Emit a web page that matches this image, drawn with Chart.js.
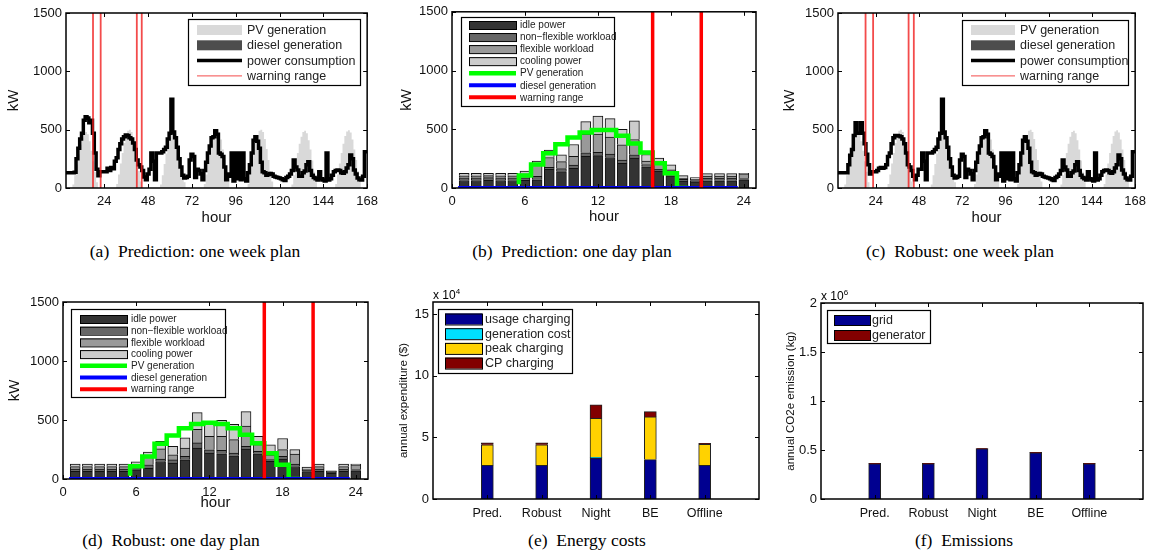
<!DOCTYPE html>
<html>
<head>
<meta charset="utf-8">
<script src="https://cdn.jsdelivr.net/npm/chart.js@4.4.1/dist/chart.umd.min.js"></script>
<style>
  body { margin: 0; background: #fff; width: 1152px; height: 559px; position: relative; overflow: hidden; }
  canvas { position: absolute; }
  .cap { position: absolute; font-family: 'Liberation Serif', 'Times New Roman', serif; font-size: 17.5px; color: #000; white-space: nowrap; transform: translate(-50%, -50%); }
  .exp { position: absolute; font-family: 'Liberation Sans', Arial, sans-serif; font-size: 12px; color: #000; }
  .exp sup { font-size: 8px; }
</style>
</head>
<body>
<canvas id="weekPred" width="384" height="232" style="left:0;top:0"></canvas>
<canvas id="dayPred" width="384" height="232" style="left:384px;top:0"></canvas>
<canvas id="weekRobust" width="384" height="232" style="left:768px;top:0"></canvas>
<canvas id="dayRobust" width="384" height="250" style="left:0;top:270px"></canvas>
<canvas id="costs" width="384" height="250" style="left:384px;top:270px"></canvas>
<canvas id="emissions" width="384" height="250" style="left:768px;top:270px"></canvas>

<div class="cap" style="left:195px;top:251px">(a)&nbsp; Prediction: one week plan</div>
<div class="cap" style="left:572px;top:251px">(b)&nbsp; Prediction: one day plan</div>
<div class="cap" style="left:960px;top:251px">(c)&nbsp; Robust: one week plan</div>
<div class="cap" style="left:171px;top:540px">(d)&nbsp; Robust: one day plan</div>
<div class="cap" style="left:587px;top:540px">(e)&nbsp; Energy costs</div>
<div class="cap" style="left:964px;top:540px">(f)&nbsp; Emissions</div>
<div class="exp" style="left:433px;top:287px">x 10<sup>4</sup></div>
<div class="exp" style="left:821px;top:288px">x 10<sup>6</sup></div>

<script>
// ---- week plans (kW per hour, hour 1..168) ----
const weekTicks = [24, 48, 72, 96, 120, 144, 168];
const dayTicks = [0, 6, 12, 18, 24];
const kwTicks = [0, 500, 1000, 1500];

const pvWeek = [
  0,0,0,0,0,0,30,110,200,290,370,430,465,480,460,400,320,230,140,50,0,0,0,0,
  0,0,0,0,0,0,35,115,210,300,385,450,490,500,480,420,335,240,145,55,0,0,0,0,
  0,0,0,0,0,0,30,110,205,295,375,435,470,485,465,405,325,235,140,50,0,0,0,0,
  0,0,0,0,0,0,35,115,210,300,380,445,485,495,475,415,330,240,145,55,0,0,0,0,
  0,0,0,0,0,0,35,115,210,305,385,450,490,500,480,420,335,240,145,55,0,0,0,0,
  0,0,0,0,0,0,30,110,205,300,380,440,480,490,470,410,330,235,140,50,0,0,0,0,
  0,0,0,0,0,0,35,115,210,300,380,445,485,495,475,415,330,240,145,55,0,0,0,0
];

const predWeek = [
  130,130,130,130,130,130,130,135,250,340,420,470,580,610,600,560,580,470,300,160,105,140,140,140,
  140,170,150,175,165,230,260,330,380,420,440,455,450,430,420,385,330,240,200,180,150,95,70,120,
  160,300,230,70,300,300,300,310,330,350,420,470,760,480,430,350,250,180,110,85,90,100,240,290,
  270,90,160,150,120,70,150,220,300,360,430,440,490,460,300,290,270,180,70,120,100,300,60,300,
  80,300,70,300,80,60,130,200,300,410,440,400,340,220,140,130,110,115,125,120,100,95,90,85,
  80,70,65,90,100,120,150,240,180,155,100,100,130,145,200,226,150,110,90,80,69,140,80,69,
  60,300,69,80,110,140,150,155,150,130,126,140,171,200,283,250,154,120,86,70,69,100,311,311
];

const robustWeek = [
  130,130,130,130,130,130,130,130,200,280,330,450,560,470,470,560,470,380,290,200,120,140,140,140,
  150,170,175,170,175,200,270,300,380,430,450,450,445,440,420,380,300,200,180,150,100,70,110,160,
  160,300,230,70,300,300,300,310,330,350,420,470,760,480,430,350,250,180,110,85,90,100,240,290,
  270,90,160,150,120,70,150,220,300,360,430,440,490,460,300,290,270,180,70,120,100,300,60,300,
  80,300,70,300,80,60,130,200,300,410,440,400,340,220,140,130,110,115,125,120,100,95,90,85,
  80,70,65,90,100,120,150,240,180,155,100,100,130,145,200,226,150,110,90,80,69,140,80,69,
  60,300,69,80,110,140,150,155,150,130,126,140,171,200,283,250,154,120,86,70,69,100,311,311
];

const warnPredWeek = [17.8, 22, 41.8, 44.5];
const warnRobustWeek = [18.3, 22.5, 42.2, 45.1];

// ---- day plans (kW, hour 1..24) ----
const idlePred    = [64,64,66,64,64,66,70,160,140,168,270,275,260,210,254,180,145,104,58,52,62,62,62,70];
const nonflexPred = [23,23,22,23,23,20,30,15,25,27,30,28,28,28,29,20,15,15,15,12,23,23,23,10];
const flexPred    = [17,17,17,17,17,35,95,85,60,75,160,155,145,130,130,30,45,35,10,10,17,17,17,40];
const coolPred    = [20,20,20,20,20,24,35,62,58,100,105,154,157,132,159,55,50,43,23,15,20,20,20,5];
const pvDayPred   = [null,null,null,null,null,31,106,199,295,373,430,472,494,494,444,379,303,211,126,0,null,null,null,null];

const idleRob    = [65,65,65,65,65,77,91,148,134,163,263,220,214,197,254,214,149,169,106,63,65,49,65,70];
const nonflexRob = [20,20,20,20,20,20,30,20,28,29,43,28,28,23,23,20,15,23,20,12,20,8,20,10];
const flexRob    = [20,20,20,20,20,25,77,87,43,71,114,114,120,114,171,57,40,57,86,10,20,7,20,40];
const coolRob    = [21,21,21,21,21,24,30,65,72,86,143,121,135,129,123,71,86,94,37,15,21,5,21,6];
const pvDayRob   = [null,null,null,null,null,28,107,191,298,368,430,466,476,466,430,374,303,219,121,0,null,null,null,null];

const dieselDay = [0,0,0,0,0,0,0,0,0,0,0,0,0,0,0,0,0,0,0,0,0,0,0,0];
const warnDay = [16.5, 20.5];

// ---- yearly comparison ----
const strategies = ['Pred.', 'Robust', 'Night', 'BE', 'Offline'];
const usageCost = [27300, 27300, 33300, 32000, 27300];
const generationCost = [0, 0, 500, 0, 0];
const peakCost = [16700, 16700, 31800, 34700, 17200];
const cpCost = [1600, 1600, 10900, 4300, 800];
const costTicks = [0, 50000, 100000, 150000];

const gridEmission = [358000, 358000, 512000, 470000, 358000];
const generatorEmission = [5000, 5000, 4000, 5000, 5000];
const emissionTicks = [0, 500000, 1000000, 1500000, 2000000];

Chart.defaults.font.family = "'Liberation Sans', Arial, Helvetica, sans-serif";
Chart.defaults.color = '#000';
Chart.defaults.animation = false;

// box with inward ticks on all four sides, like the original plots
const matlabBox = {
  id: 'matlabBox',
  afterDatasetsDraw(chart) {
    const { ctx, chartArea: a, scales } = chart;
    const len = 4;
    ctx.save();
    ctx.strokeStyle = '#000';
    ctx.lineWidth = 1;
    ctx.beginPath();
    scales.x.ticks.forEach(t => {
      const px = Math.round(scales.x.getPixelForValue(t.value)) + 0.5;
      ctx.moveTo(px, a.bottom); ctx.lineTo(px, a.bottom - len);
      ctx.moveTo(px, a.top); ctx.lineTo(px, a.top + len);
    });
    scales.y.ticks.forEach(t => {
      const py = Math.round(scales.y.getPixelForValue(t.value)) + 0.5;
      ctx.moveTo(a.left, py); ctx.lineTo(a.left + len, py);
      ctx.moveTo(a.right, py); ctx.lineTo(a.right - len, py);
    });
    ctx.stroke();
    ctx.lineWidth = 1.5;
    ctx.strokeRect(a.left, a.top, a.right - a.left, a.bottom - a.top);
    ctx.restore();
  }
};

// legend box drawn inside the axes
const boxLegend = {
  id: 'boxLegend',
  afterDraw(chart, args, opts) {
    if (!opts || !opts.box) return;
    const ctx = chart.ctx;
    const [bx, by, bw, bh] = opts.box;
    const [px, pw, ph] = opts.patch;
    ctx.save();
    ctx.fillStyle = '#fff';
    ctx.fillRect(bx, by, bw, bh);
    ctx.strokeStyle = '#000';
    ctx.lineWidth = 1.2;
    ctx.strokeRect(bx + 0.5, by + 0.5, bw, bh);
    ctx.font = opts.font;
    ctx.textBaseline = 'middle';
    chart.data.datasets.filter(d => d.legend).forEach((d, i) => {
      const y = opts.rowY + i * opts.rowH;
      if (d.legend === 'line') {
        ctx.strokeStyle = d.borderColor;
        ctx.lineWidth = d.legendWidth || d.borderWidth;
        ctx.beginPath();
        ctx.moveTo(px, y); ctx.lineTo(px + pw, y);
        ctx.stroke();
      } else {
        ctx.fillStyle = d.backgroundColor;
        ctx.fillRect(px, y - ph / 2, pw, ph);
        if (d.legendEdge) {
          ctx.strokeStyle = '#000';
          ctx.lineWidth = 1;
          ctx.strokeRect(px + 0.5, y - ph / 2 + 0.5, pw, ph);
        }
      }
      ctx.fillStyle = '#222';
      ctx.fillText(d.label, opts.textX, y + 0.5);
    });
    ctx.restore();
  }
};

function fixTicks(values) {
  return scale => { scale.ticks = values.map(v => ({ value: v })); };
}

function axisX(min, max, ticks, height, title, titlePad, fmt) {
  return {
    type: 'linear', min, max, offset: false,
    afterBuildTicks: fixTicks(ticks),
    afterFit: s => { s.height = height; },
    grid: { display: false, drawTicks: false, offset: false },
    border: { display: false },
    ticks: { padding: 6, font: { size: 13 }, color: '#111', maxRotation: 0, autoSkip: false, callback: fmt || (v => String(v)) },
    title: title ? { display: true, text: title, font: { size: 15 }, color: '#111', padding: { top: 0, bottom: titlePad } } : { display: false }
  };
}

function axisY(max, ticks, width, title, titleSize, titlePad, fmt) {
  return {
    min: 0, max,
    afterBuildTicks: fixTicks(ticks),
    afterFit: s => { s.width = width; },
    grid: { display: false, drawTicks: false },
    border: { display: false },
    ticks: { padding: 4, font: { size: 13 }, color: '#111', callback: fmt || (v => String(v)) },
    title: { display: true, text: title, font: { size: titleSize }, color: '#111', padding: { top: titlePad, bottom: 0 } }
  };
}

function vLine(x, color, width, label) {
  return {
    type: 'line', label, data: [{ x, y: 0 }, { x, y: 1500 }],
    borderColor: color, borderWidth: width, pointRadius: 0, order: 0,
    legend: label ? 'line' : undefined, legendWidth: label ? 1 : undefined
  };
}

function weekChart(id, consumption, warn, pad, yW, titlePadY, legendBox) {
  const datasets = [
    { type: 'line', label: 'PV generation', data: pvWeek.map((v, i) => ({ x: i + 1, y: v })),
      stepped: 'middle', fill: 'origin', backgroundColor: '#d9d9d9', borderColor: 'rgba(0,0,0,0)',
      borderWidth: 0, pointRadius: 0, order: 3, legend: 'patch' },
    { type: 'line', label: 'diesel generation', data: [], backgroundColor: '#4d4d4d',
      borderColor: '#4d4d4d', pointRadius: 0, order: 2, legend: 'patch' },
    { type: 'line', label: 'power consumption', data: consumption.map((v, i) => ({ x: i + 1, y: v })),
      stepped: 'middle', borderColor: '#000', borderWidth: 3.5, pointRadius: 0, order: 1,
      legend: 'line', legendWidth: 3.5 }
  ];
  warn.forEach((x, i) => datasets.push(vLine(x, 'rgba(240,30,30,0.8)', 1.8, i === 0 ? 'warning range' : undefined)));
  return new Chart(document.getElementById(id), {
    type: 'line',
    data: { datasets },
    options: {
      responsive: false, devicePixelRatio: 1,
      layout: { padding: pad },
      scales: {
        x: axisX(3, 168, weekTicks, 44, 'hour', 5),
        y: axisY(1500, kwTicks, yW, 'kW', 15, titlePadY)
      },
      plugins: {
        legend: { display: false }, tooltip: { enabled: false },
        boxLegend: legendBox
      }
    },
    plugins: [matlabBox, boxLegend]
  });
}

function dayChart(id, idle, nonflex, flex, cool, pv, pad, yW, titlePadY, xH, xTitlePad, legendBox) {
  const bar = (label, data, color) => ({
    type: 'bar', label, data: data.map((v, i) => ({ x: i + 1, y: v })),
    backgroundColor: color, borderColor: '#111', borderWidth: 1, barThickness: 10,
    order: 4, legend: 'patch', legendEdge: true
  });
  const datasets = [
    bar('idle power', idle, '#333333'),
    bar('non\u2212flexible workload', nonflex, '#666666'),
    bar('flexible workload', flex, '#999999'),
    bar('cooling power', cool, '#cccccc'),
    { type: 'line', label: 'PV generation', yAxisID: 'y2', data: pv.map((v, i) => ({ x: i + 0.5, y: v })),
      stepped: 'after', spanGaps: false, borderColor: '#00ff00', borderWidth: 4.5, pointRadius: 0, order: 2, legend: 'line' },
    { type: 'line', label: 'diesel generation', yAxisID: 'y2', data: dieselDay.map((v, i) => ({ x: i + 0.5, y: v })),
      stepped: 'after', borderColor: '#0000ff', borderWidth: 4, pointRadius: 0, order: 1, legend: 'line' }
  ];
  warnDay.forEach((x, i) => {
    const d = vLine(x, '#ff0000', 3.5, i === 0 ? 'warning range' : undefined);
    d.yAxisID = 'y2';
    if (d.legend) d.legendWidth = 4;
    datasets.push(d);
  });
  const x = axisX(0, 25, dayTicks, xH, 'hour', xTitlePad);
  x.stacked = true;
  const y = axisY(1500, kwTicks, yW, 'kW', 15, titlePadY);
  y.stacked = true;
  return new Chart(document.getElementById(id), {
    type: 'bar',
    data: { datasets },
    options: {
      responsive: false, devicePixelRatio: 1,
      layout: { padding: pad },
      scales: { x, y, y2: { display: false, min: 0, max: 1500 } },
      plugins: { legend: { display: false }, tooltip: { enabled: false }, boxLegend: legendBox }
    },
    plugins: [matlabBox, boxLegend]
  });
}

function strategyChart(id, series, max, ticks, fmt, pad, yW, title, titlePad, legendBox) {
  const datasets = series.map(s => ({
    type: 'bar', label: s.label, data: s.data.map((v, i) => ({ x: i + 1, y: v })),
    backgroundColor: s.color, borderColor: '#222', borderWidth: 1, barThickness: 12,
    legend: 'patch', legendEdge: true
  }));
  const x = axisX(0, 6, [1, 2, 3, 4, 5], 21, null, 0, v => strategies[v - 1] || '');
  x.stacked = true;
  x.ticks.padding = 7;
  x.ticks.font = { size: 12.5 };
  const y = axisY(max, ticks, yW, title, 11.5, titlePad, fmt);
  y.stacked = true;
  return new Chart(document.getElementById(id), {
    type: 'bar',
    data: { datasets },
    options: {
      responsive: false, devicePixelRatio: 1,
      layout: { padding: pad },
      scales: { x, y },
      plugins: { legend: { display: false }, tooltip: { enabled: false }, boxLegend: legendBox }
    },
    plugins: [matlabBox, boxLegend]
  });
}

weekChart('weekPred', predWeek, warnPredWeek, { top: 13, right: 16 }, 66, 5,
  { box: [188, 19, 172, 66], patch: [197, 45, 10], textX: 247, rowY: 30, rowH: 15.3, font: "12.5px 'Liberation Sans', Arial" });

weekChart('weekRobust', robustWeek, warnRobustWeek, { top: 13, right: 12 }, 70, 13,
  { box: [194, 20, 166, 65], patch: [203, 44, 10], textX: 252, rowY: 30, rowH: 15.3, font: "12.5px 'Liberation Sans', Arial" });

dayChart('dayPred', idlePred, nonflexPred, flexPred, coolPred, pvDayPred, { top: 10, right: 12 }, 68, 14, 44, 6,
  { box: [77, 17, 153, 89], patch: [85, 47, 8], textX: 136, rowY: 25, rowH: 12.05, font: "10px 'Liberation Sans', Arial" });

dayChart('dayRobust', idleRob, nonflexRob, flexRob, coolRob, pvDayRob, { top: 32, right: 16 }, 63, 6, 41, 8,
  { box: [71, 39, 154, 88], patch: [80, 47, 8], textX: 131, rowY: 49, rowH: 11.7, font: "10px 'Liberation Sans', Arial" });

strategyChart('costs', [
  { label: 'usage charging', data: usageCost, color: '#000090' },
  { label: 'generation cost', data: generationCost, color: '#00e0ff' },
  { label: 'peak charging', data: peakCost, color: '#ffd200' },
  { label: 'CP charging', data: cpCost, color: '#820000' }
], 160000, costTicks, v => String(v / 10000), { top: 32, right: 9 }, 49, 'annual expenditure ($)', 13,
  { box: [54, 39, 134, 64], patch: [61, 37, 11], textX: 101, rowY: 49, rowH: 14.7, font: "12.5px 'Liberation Sans', Arial" });

strategyChart('emissions', [
  { label: 'grid', data: gridEmission, color: '#000090' },
  { label: 'generator', data: generatorEmission, color: '#820000' }
], 2000000, emissionTicks, v => String(v / 1000000), { top: 33, right: 9 }, 53, 'annual CO2e emission (kg)', 16,
  { box: [59, 40, 103, 33], patch: [66, 36, 10], textX: 104, rowY: 50, rowH: 15, font: "12.5px 'Liberation Sans', Arial" });
</script>
</body>
</html>
